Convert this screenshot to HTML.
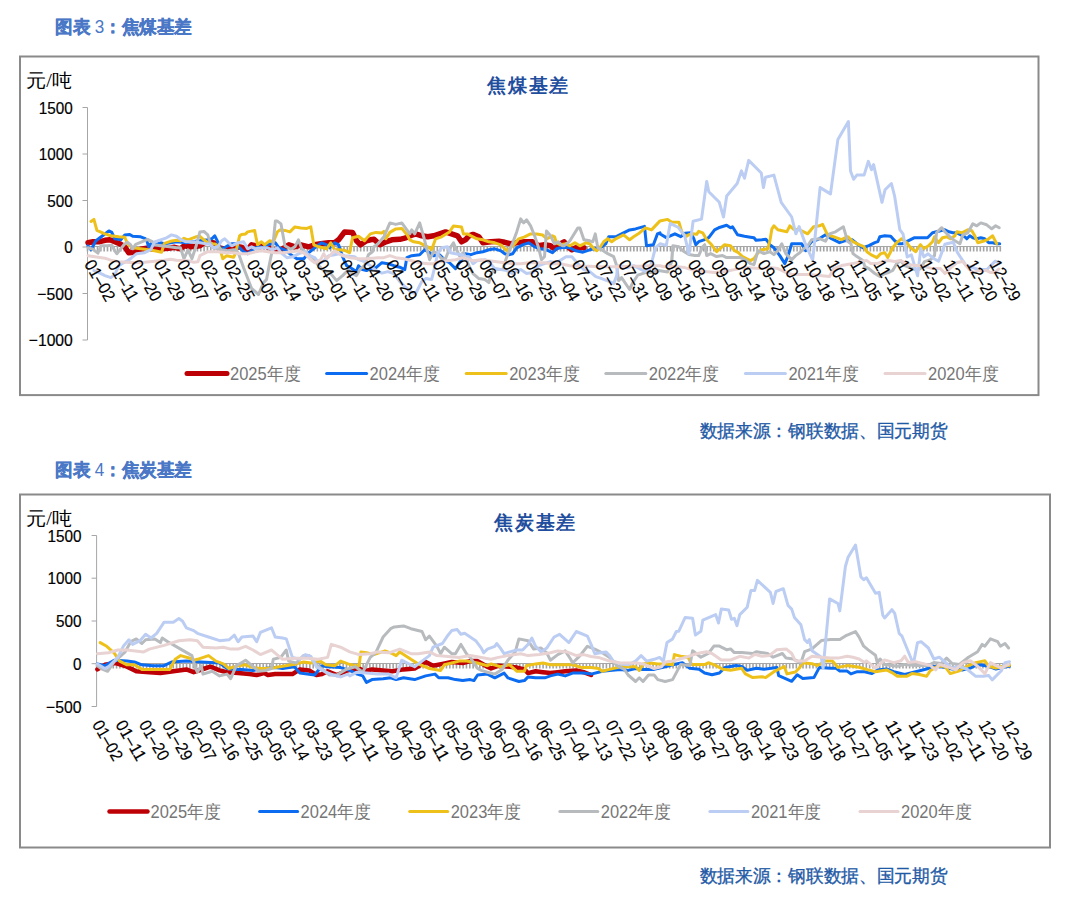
<!DOCTYPE html>
<html><head><meta charset="utf-8"><style>
html,body{margin:0;padding:0;background:#fff;}
body{width:1080px;height:905px;overflow:hidden;position:relative;font-family:"Liberation Sans",sans-serif;}
svg{position:absolute;left:0;top:0;}
.yl{font-family:"Liberation Sans",sans-serif;font-size:17px;fill:#000;stroke:#000;stroke-width:0.2px;}
.xl{font-family:"Liberation Sans",sans-serif;font-size:17px;fill:#000;stroke:#000;stroke-width:0.12px;}
.ct{font-family:"Liberation Serif",serif;font-size:18.5px;font-weight:bold;fill:#1f4e9e;letter-spacing:1.8px;}
.un{font-family:"Liberation Serif",serif;font-size:19px;fill:#000;}
.lg{font-family:"Liberation Sans",sans-serif;font-size:17.5px;fill:#767676;}
.hd2{font-family:"Liberation Sans",sans-serif;font-weight:bold;font-size:17.5px;fill:#4a77c6;stroke:#4a77c6;stroke-width:0.4px;}
.src2{font-family:"Liberation Sans",sans-serif;font-size:17.5px;fill:#1f5aa6;stroke:#1f5aa6;stroke-width:0.35px;}
</style></head><body>
<svg width="1080" height="905" viewBox="0 0 1080 905">
<text x="55" y="33" class="hd2" textLength="137" lengthAdjust="spacingAndGlyphs">图表 <tspan style="font-weight:normal;stroke-width:0">3</tspan>：焦煤基差</text>
<text x="55" y="476" class="hd2" textLength="137" lengthAdjust="spacingAndGlyphs">图表 <tspan style="font-weight:normal;stroke-width:0">4</tspan>：焦炭基差</text>
<text x="699.5" y="437" class="src2" textLength="248" lengthAdjust="spacingAndGlyphs">数据来源：钢联数据、国元期货</text>
<text x="699.5" y="882" class="src2" textLength="248" lengthAdjust="spacingAndGlyphs">数据来源：钢联数据、国元期货</text>
<rect x="20" y="56.5" width="1018.5" height="338.6" fill="none" stroke="#8a8a8a" stroke-width="2"/>
<line x1="87.5" y1="107.5" x2="87.5" y2="340.0" stroke="#a6a6a6" stroke-width="1"/>
<line x1="82.5" y1="107.5" x2="87.5" y2="107.5" stroke="#a6a6a6" stroke-width="1"/>
<text x="38.8" y="113.5" class="yl" textLength="34.0" lengthAdjust="spacingAndGlyphs">1500</text>
<line x1="82.5" y1="154.0" x2="87.5" y2="154.0" stroke="#a6a6a6" stroke-width="1"/>
<text x="38.8" y="160.0" class="yl" textLength="34.0" lengthAdjust="spacingAndGlyphs">1000</text>
<line x1="82.5" y1="200.5" x2="87.5" y2="200.5" stroke="#a6a6a6" stroke-width="1"/>
<text x="47.3" y="206.5" class="yl" textLength="25.5" lengthAdjust="spacingAndGlyphs">500</text>
<line x1="82.5" y1="247.0" x2="87.5" y2="247.0" stroke="#a6a6a6" stroke-width="1"/>
<text x="64.3" y="253.0" class="yl" textLength="8.5" lengthAdjust="spacingAndGlyphs">0</text>
<line x1="82.5" y1="293.5" x2="87.5" y2="293.5" stroke="#a6a6a6" stroke-width="1"/>
<text x="37.3" y="299.5" class="yl" textLength="35.5" lengthAdjust="spacingAndGlyphs">−500</text>
<line x1="82.5" y1="340.0" x2="87.5" y2="340.0" stroke="#a6a6a6" stroke-width="1"/>
<text x="28.8" y="346.0" class="yl" textLength="44.0" lengthAdjust="spacingAndGlyphs">−1000</text>
<path d="M87.50 246.0v5.5M90.83 246.0v5.5M94.16 246.0v5.5M97.49 246.0v5.5M100.83 246.0v5.5M104.16 246.0v5.5M107.49 246.0v5.5M110.82 246.0v5.5M114.15 246.0v5.5M117.48 246.0v5.5M120.81 246.0v5.5M124.15 246.0v5.5M127.48 246.0v5.5M130.81 246.0v5.5M134.14 246.0v5.5M137.47 246.0v5.5M140.80 246.0v5.5M144.13 246.0v5.5M147.46 246.0v5.5M150.80 246.0v5.5M154.13 246.0v5.5M157.46 246.0v5.5M160.79 246.0v5.5M164.12 246.0v5.5M167.45 246.0v5.5M170.78 246.0v5.5M174.12 246.0v5.5M177.45 246.0v5.5M180.78 246.0v5.5M184.11 246.0v5.5M187.44 246.0v5.5M190.77 246.0v5.5M194.10 246.0v5.5M197.44 246.0v5.5M200.77 246.0v5.5M204.10 246.0v5.5M207.43 246.0v5.5M210.76 246.0v5.5M214.09 246.0v5.5M217.42 246.0v5.5M220.76 246.0v5.5M224.09 246.0v5.5M227.42 246.0v5.5M230.75 246.0v5.5M234.08 246.0v5.5M237.41 246.0v5.5M240.74 246.0v5.5M244.08 246.0v5.5M247.41 246.0v5.5M250.74 246.0v5.5M254.07 246.0v5.5M257.40 246.0v5.5M260.73 246.0v5.5M264.06 246.0v5.5M267.39 246.0v5.5M270.73 246.0v5.5M274.06 246.0v5.5M277.39 246.0v5.5M280.72 246.0v5.5M284.05 246.0v5.5M287.38 246.0v5.5M290.71 246.0v5.5M294.05 246.0v5.5M297.38 246.0v5.5M300.71 246.0v5.5M304.04 246.0v5.5M307.37 246.0v5.5M310.70 246.0v5.5M314.03 246.0v5.5M317.37 246.0v5.5M320.70 246.0v5.5M324.03 246.0v5.5M327.36 246.0v5.5M330.69 246.0v5.5M334.02 246.0v5.5M337.35 246.0v5.5M340.69 246.0v5.5M344.02 246.0v5.5M347.35 246.0v5.5M350.68 246.0v5.5M354.01 246.0v5.5M357.34 246.0v5.5M360.67 246.0v5.5M364.01 246.0v5.5M367.34 246.0v5.5M370.67 246.0v5.5M374.00 246.0v5.5M377.33 246.0v5.5M380.66 246.0v5.5M383.99 246.0v5.5M387.32 246.0v5.5M390.66 246.0v5.5M393.99 246.0v5.5M397.32 246.0v5.5M400.65 246.0v5.5M403.98 246.0v5.5M407.31 246.0v5.5M410.64 246.0v5.5M413.98 246.0v5.5M417.31 246.0v5.5M420.64 246.0v5.5M423.97 246.0v5.5M427.30 246.0v5.5M430.63 246.0v5.5M433.96 246.0v5.5M437.30 246.0v5.5M440.63 246.0v5.5M443.96 246.0v5.5M447.29 246.0v5.5M450.62 246.0v5.5M453.95 246.0v5.5M457.28 246.0v5.5M460.62 246.0v5.5M463.95 246.0v5.5M467.28 246.0v5.5M470.61 246.0v5.5M473.94 246.0v5.5M477.27 246.0v5.5M480.60 246.0v5.5M483.94 246.0v5.5M487.27 246.0v5.5M490.60 246.0v5.5M493.93 246.0v5.5M497.26 246.0v5.5M500.59 246.0v5.5M503.92 246.0v5.5M507.25 246.0v5.5M510.59 246.0v5.5M513.92 246.0v5.5M517.25 246.0v5.5M520.58 246.0v5.5M523.91 246.0v5.5M527.24 246.0v5.5M530.57 246.0v5.5M533.91 246.0v5.5M537.24 246.0v5.5M540.57 246.0v5.5M543.90 246.0v5.5M547.23 246.0v5.5M550.56 246.0v5.5M553.89 246.0v5.5M557.23 246.0v5.5M560.56 246.0v5.5M563.89 246.0v5.5M567.22 246.0v5.5M570.55 246.0v5.5M573.88 246.0v5.5M577.21 246.0v5.5M580.55 246.0v5.5M583.88 246.0v5.5M587.21 246.0v5.5M590.54 246.0v5.5M593.87 246.0v5.5M597.20 246.0v5.5M600.53 246.0v5.5M603.86 246.0v5.5M607.20 246.0v5.5M610.53 246.0v5.5M613.86 246.0v5.5M617.19 246.0v5.5M620.52 246.0v5.5M623.85 246.0v5.5M627.18 246.0v5.5M630.52 246.0v5.5M633.85 246.0v5.5M637.18 246.0v5.5M640.51 246.0v5.5M643.84 246.0v5.5M647.17 246.0v5.5M650.50 246.0v5.5M653.84 246.0v5.5M657.17 246.0v5.5M660.50 246.0v5.5M663.83 246.0v5.5M667.16 246.0v5.5M670.49 246.0v5.5M673.82 246.0v5.5M677.16 246.0v5.5M680.49 246.0v5.5M683.82 246.0v5.5M687.15 246.0v5.5M690.48 246.0v5.5M693.81 246.0v5.5M697.14 246.0v5.5M700.48 246.0v5.5M703.81 246.0v5.5M707.14 246.0v5.5M710.47 246.0v5.5M713.80 246.0v5.5M717.13 246.0v5.5M720.46 246.0v5.5M723.79 246.0v5.5M727.13 246.0v5.5M730.46 246.0v5.5M733.79 246.0v5.5M737.12 246.0v5.5M740.45 246.0v5.5M743.78 246.0v5.5M747.11 246.0v5.5M750.45 246.0v5.5M753.78 246.0v5.5M757.11 246.0v5.5M760.44 246.0v5.5M763.77 246.0v5.5M767.10 246.0v5.5M770.43 246.0v5.5M773.77 246.0v5.5M777.10 246.0v5.5M780.43 246.0v5.5M783.76 246.0v5.5M787.09 246.0v5.5M790.42 246.0v5.5M793.75 246.0v5.5M797.09 246.0v5.5M800.42 246.0v5.5M803.75 246.0v5.5M807.08 246.0v5.5M810.41 246.0v5.5M813.74 246.0v5.5M817.07 246.0v5.5M820.41 246.0v5.5M823.74 246.0v5.5M827.07 246.0v5.5M830.40 246.0v5.5M833.73 246.0v5.5M837.06 246.0v5.5M840.39 246.0v5.5M843.72 246.0v5.5M847.06 246.0v5.5M850.39 246.0v5.5M853.72 246.0v5.5M857.05 246.0v5.5M860.38 246.0v5.5M863.71 246.0v5.5M867.04 246.0v5.5M870.38 246.0v5.5M873.71 246.0v5.5M877.04 246.0v5.5M880.37 246.0v5.5M883.70 246.0v5.5M887.03 246.0v5.5M890.36 246.0v5.5M893.70 246.0v5.5M897.03 246.0v5.5M900.36 246.0v5.5M903.69 246.0v5.5M907.02 246.0v5.5M910.35 246.0v5.5M913.68 246.0v5.5M917.02 246.0v5.5M920.35 246.0v5.5M923.68 246.0v5.5M927.01 246.0v5.5M930.34 246.0v5.5M933.67 246.0v5.5M937.00 246.0v5.5M940.34 246.0v5.5M943.67 246.0v5.5M947.00 246.0v5.5M950.33 246.0v5.5M953.66 246.0v5.5M956.99 246.0v5.5M960.32 246.0v5.5M963.65 246.0v5.5M966.99 246.0v5.5M970.32 246.0v5.5M973.65 246.0v5.5M976.98 246.0v5.5M980.31 246.0v5.5M983.64 246.0v5.5M986.97 246.0v5.5M990.31 246.0v5.5M993.64 246.0v5.5M996.97 246.0v5.5M1000.30 246.0v5.5" stroke="#a4a4a4" stroke-width="1.6" fill="none"/>
<line x1="87.5" y1="246.5" x2="1000.3" y2="246.5" stroke="#a6a6a6" stroke-width="1"/>
<path d="M88.0 242.8 L93.0 241.8 L98.9 241.8 L104.9 240.3 L109.9 239.8 L114.8 241.8 L120.8 244.3 L124.8 246.8 L128.7 252.7 L134.7 252.2 L140.7 249.3 L146.6 248.3 L152.6 249.3 L160.5 248.8 L168.5 248.3 L174.5 247.3 L180.4 248.8 L184.0 245.8 L189.9 246.8 L195.9 246.3 L199.9 245.8 L203.9 242.8 L209.8 241.8 L213.8 242.8 L219.8 247.8 L223.7 248.8 L227.7 249.8 L233.7 248.8 L237.7 246.8 L241.6 247.3 L247.6 249.8 L251.6 244.8 L255.5 245.8 L259.5 246.8 L264.5 245.8 L269.5 247.8 L274.4 249.8 L281.0 249.8 L288.9 244.8 L294.9 246.8 L300.8 244.8 L308.8 246.8 L314.8 244.8 L320.7 243.8 L328.7 242.8 L334.6 242.8 L338.6 239.8 L344.6 231.9 L352.5 232.4 L356.5 240.8 L360.5 244.8 L366.5 240.8 L370.4 239.8 L374.0 239.3 L379.9 244.8 L385.9 241.8 L391.9 239.8 L399.8 239.3 L405.8 237.8 L409.8 235.8 L415.7 233.9 L421.7 235.8 L427.7 236.8 L433.6 235.8 L439.6 233.9 L445.5 231.9 L451.5 233.9 L457.5 235.8 L461.5 241.8 L465.4 239.8 L469.0 235.8 L473.0 234.4 L478.9 236.8 L482.9 242.8 L490.8 241.8 L498.8 241.3 L504.8 242.3 L510.7 243.8 L516.7 242.8 L524.6 241.8 L532.6 241.8 L538.6 245.8 L544.5 244.8 L550.5 245.8 L554.5 248.8 L560.4 243.8 L564.0 241.8 L568.0 246.8 L571.9 249.8 L575.9 247.8 L583.9 247.8" stroke="#bd0006" stroke-width="5.5" fill="none" stroke-linejoin="round" stroke-linecap="round"/>
<path d="M88.0 245.8 L91.0 249.8 L95.9 240.8 L101.9 236.3 L108.9 230.9 L111.8 232.4 L114.8 238.8 L120.8 239.8 L124.8 234.9 L129.7 234.4 L132.7 236.3 L140.7 236.8 L144.6 238.3 L146.6 239.8 L148.6 246.8 L150.6 243.8 L154.6 244.8 L160.5 242.8 L164.5 243.8 L170.5 242.8 L176.5 241.8 L186.0 242.8 L191.9 241.8 L199.9 240.8 L207.8 239.8 L211.8 238.8 L214.8 235.8 L217.8 241.8 L219.8 247.8 L223.7 248.3 L227.7 245.8 L231.7 243.8 L235.7 243.8 L239.6 247.8 L243.6 251.7 L247.6 253.7 L251.6 250.8 L255.5 247.8 L259.5 246.8 L263.5 247.8 L267.5 244.8 L275.4 242.8 L279.0 247.8 L284.9 249.8 L290.9 254.7 L296.9 258.7 L303.8 258.7 L308.8 252.7 L314.8 247.8 L321.7 242.8 L326.7 244.8 L329.7 247.8 L334.6 242.8 L338.6 244.8 L342.6 256.7 L346.6 265.7 L350.5 267.7 L356.5 271.6 L358.5 265.7 L362.5 269.6 L366.5 270.6 L370.4 268.6 L376.0 267.7 L381.9 262.7 L387.9 263.7 L393.9 265.7 L399.8 267.2 L404.8 269.6 L406.8 257.7 L411.7 255.7 L419.7 254.7 L424.7 249.8 L429.6 252.7 L433.6 255.7 L439.6 254.7 L441.6 256.7 L445.5 260.7 L449.5 262.7 L455.5 268.6 L459.5 262.7 L465.4 253.7 L471.0 254.7 L476.9 252.7 L482.9 251.7 L488.9 249.8 L494.8 248.8 L500.8 250.8 L504.8 253.7 L508.7 254.7 L512.7 253.7 L516.7 247.8 L522.7 244.8 L528.6 242.8 L534.6 246.8 L540.5 248.8 L546.5 249.8 L552.5 252.7 L556.5 248.8 L560.4 247.8 L566.0 247.3 L569.9 247.8 L575.9 250.8 L582.9 252.2 L589.8 249.8 L593.8 248.8 L599.8 248.3 L605.7 243.8 L608.7 236.8 L615.7 236.8 L621.6 233.9 L629.6 229.9 L635.5 228.9 L644.5 226.4 L646.5 245.8 L653.4 244.8 L657.4 233.9 L660.0 232.9 L659.8 233.7 L666.3 237.6 L674.9 233.8 L680.8 236.7 L684.8 233.3 L690.8 232.8 L693.8 238.7 L695.8 244.7 L698.7 241.7 L704.7 239.7 L708.7 237.7 L714.6 229.8 L718.6 227.8 L726.6 225.3 L730.5 227.8 L732.5 226.8 L737.5 234.8 L744.5 236.3 L750.4 237.2 L754.0 237.7 L756.0 240.2 L761.9 239.7 L765.9 239.2 L767.9 241.7 L769.9 244.7 L773.9 247.7 L779.8 255.6 L784.8 263.6 L787.8 256.6 L791.7 243.7 L795.7 243.7 L801.7 243.7 L805.7 250.7 L807.7 246.7 L811.6 241.7 L817.6 239.7 L825.5 234.8 L831.5 238.7 L839.5 242.7 L845.4 240.7 L852.0 239.7 L856.9 243.7 L862.9 247.7 L868.9 245.7 L874.8 242.7 L877.8 241.7 L879.8 236.7 L884.8 235.8 L890.7 236.3 L894.7 240.7 L898.7 243.7 L902.7 243.7 L908.6 240.7 L914.6 237.7 L920.5 237.7 L927.5 237.7 L932.5 232.8 L936.5 231.8 L940.4 230.8 L944.9 229.8 L948.9 231.8 L952.9 232.8 L956.9 232.8 L960.9 234.8 L964.8 236.8 L966.8 238.8 L969.8 235.8 L972.8 237.8 L976.8 238.8 L980.8 237.8 L984.7 238.8 L988.7 242.7 L992.7 242.7 L996.7 243.7 L999.7 243.7" stroke="#0b6cf2" stroke-width="3" fill="none" stroke-linejoin="round" stroke-linecap="round"/>
<path d="M91.0 221.4 L93.9 219.4 L96.9 230.4 L104.9 233.9 L110.8 235.8 L118.8 236.8 L124.8 237.3 L127.7 244.3 L132.7 247.8 L140.7 248.8 L148.6 249.8 L154.6 250.8 L161.5 252.2 L164.5 243.3 L170.5 241.3 L176.5 240.3 L180.4 240.8 L184.0 238.3 L188.0 239.8 L195.9 236.8 L199.9 236.3 L203.9 239.8 L207.8 242.8 L212.8 243.8 L215.8 244.3 L219.8 247.8 L222.7 258.7 L226.7 255.7 L233.7 257.2 L235.7 252.7 L239.6 235.8 L241.6 234.4 L245.6 233.9 L247.6 231.9 L254.6 230.4 L257.5 244.8 L261.5 241.8 L264.5 244.8 L269.5 240.8 L273.4 241.8 L277.4 231.9 L280.0 229.9 L284.9 230.4 L289.9 231.9 L294.9 226.9 L300.8 227.9 L306.8 228.4 L310.8 226.9 L313.8 244.8 L318.7 246.8 L326.7 248.8 L330.7 242.8 L334.6 249.8 L338.6 249.8 L344.6 250.3 L349.6 252.7 L352.5 237.8 L358.5 236.3 L364.5 240.8 L370.4 233.9 L376.0 232.4 L381.9 232.9 L383.9 231.4 L385.9 238.8 L389.9 232.4 L395.8 228.9 L401.8 228.4 L407.8 235.8 L409.8 239.8 L413.7 241.8 L419.7 242.8 L423.7 244.8 L429.6 247.8 L431.6 249.8 L435.6 238.8 L441.6 236.8 L449.5 231.9 L453.5 225.9 L461.5 226.9 L463.4 233.9 L467.4 233.9 L471.0 235.8 L476.9 238.8 L482.9 239.8 L488.9 241.8 L494.8 242.8 L500.8 244.8 L504.8 248.8 L506.7 250.8 L510.7 247.8 L514.7 243.8 L518.7 238.8 L524.6 236.8 L530.6 233.9 L536.6 233.9 L542.5 234.9 L546.5 238.8 L552.5 235.8 L554.5 236.8 L556.5 242.8 L560.4 244.8 L566.0 243.8 L569.9 245.8 L574.9 242.8 L579.9 245.8 L585.8 242.8 L589.8 243.8 L593.8 248.8 L596.8 250.8 L599.8 247.8 L603.7 241.8 L607.7 238.8 L611.7 241.8 L615.7 238.8 L623.6 234.9 L629.6 239.8 L633.6 236.8 L639.5 232.9 L645.5 227.9 L651.5 229.9 L660.0 220.9 L661.1 220.7 L667.6 219.4 L671.5 222.0 L678.9 222.3 L681.8 231.8 L685.8 236.7 L688.8 234.8 L692.8 233.8 L696.7 234.3 L698.7 231.3 L702.7 232.8 L706.7 239.7 L710.7 243.7 L716.6 251.7 L724.6 244.7 L730.5 245.7 L734.5 250.7 L738.5 252.7 L742.5 256.6 L750.4 260.6 L754.0 258.6 L758.0 252.7 L761.9 249.7 L767.9 248.7 L769.9 240.7 L771.9 228.8 L773.9 225.8 L777.8 229.8 L786.8 231.8 L789.8 225.8 L793.7 229.3 L799.7 229.8 L807.7 233.8 L813.6 226.8 L819.6 225.8 L822.6 224.3 L827.5 234.8 L833.5 236.7 L841.5 239.7 L845.4 237.7 L848.0 236.7 L853.0 241.7 L858.9 244.7 L863.9 246.7 L866.9 251.7 L870.8 254.6 L876.8 257.6 L880.8 253.6 L884.8 252.7 L887.7 257.6 L892.7 247.7 L896.7 242.7 L901.7 238.7 L906.6 242.7 L910.6 247.7 L915.6 251.7 L920.5 244.7 L923.5 248.7 L928.5 245.7 L932.5 241.7 L934.5 236.7 L938.4 242.7 L942.4 237.7 L946.9 236.8 L950.9 238.8 L954.9 235.8 L956.9 231.8 L961.9 232.8 L967.8 229.8 L971.8 230.8 L974.8 235.8 L977.8 242.7 L984.7 240.8 L988.7 238.8 L992.7 235.8 L994.7 239.8 L996.7 243.7" stroke="#eec11a" stroke-width="3" fill="none" stroke-linejoin="round" stroke-linecap="round"/>
<path d="M88.0 247.8 L93.0 249.3 L97.9 253.2 L100.9 245.8 L106.9 245.8 L111.8 245.3 L114.8 250.8 L116.8 253.7 L120.8 248.8 L124.8 243.8 L127.7 242.3 L130.7 244.8 L132.7 248.8 L135.7 244.3 L141.7 241.8 L147.6 239.3 L152.6 241.8 L154.6 244.8 L160.5 245.8 L169.5 246.8 L176.5 247.8 L180.4 247.8 L184.0 258.7 L188.0 249.8 L191.9 258.7 L195.9 246.8 L199.9 231.9 L203.9 231.4 L207.8 234.9 L209.8 241.8 L212.8 247.8 L217.8 248.8 L221.7 249.8 L227.7 250.8 L233.7 249.8 L235.7 249.8 L238.6 253.7 L243.6 267.7 L251.6 288.5 L258.5 294.5 L263.5 282.6 L266.5 279.6 L269.5 263.7 L272.4 249.8 L275.4 220.9 L277.0 220.9 L281.0 223.9 L284.9 245.8 L290.9 249.3 L294.9 246.8 L298.4 239.8 L301.8 248.8 L306.8 253.7 L312.8 257.7 L317.7 264.7 L322.7 269.6 L330.7 273.6 L336.6 280.6 L342.6 275.6 L348.6 269.6 L352.5 273.6 L356.5 275.6 L360.5 268.6 L364.5 265.7 L368.4 254.7 L372.4 251.7 L374.0 246.8 L378.0 243.8 L383.9 236.8 L389.9 222.9 L395.8 224.4 L401.8 222.9 L409.8 233.9 L411.7 229.9 L414.7 233.9 L419.7 222.9 L423.7 236.8 L429.6 259.7 L433.6 251.7 L437.6 253.7 L441.6 258.7 L445.5 258.7 L449.5 248.8 L453.5 242.8 L455.5 247.8 L459.5 255.7 L463.4 252.7 L469.0 265.7 L473.0 273.6 L478.9 278.6 L484.9 279.6 L488.9 282.6 L490.8 274.6 L494.8 268.6 L498.8 269.6 L502.8 269.6 L505.8 259.7 L508.7 251.7 L512.7 242.8 L516.7 231.9 L520.7 218.9 L523.6 222.9 L526.6 219.9 L530.6 225.9 L534.6 235.8 L538.6 247.8 L541.5 259.7 L544.5 256.7 L546.5 230.9 L550.5 235.8 L554.5 243.8 L558.4 241.8 L562.4 245.8 L564.0 245.8 L569.9 240.8 L577.9 227.9 L579.9 227.9 L583.9 239.8 L589.8 240.8 L592.8 241.8 L595.3 233.9 L597.8 247.8 L601.7 249.8 L607.7 253.7 L613.7 256.7 L616.7 265.7 L618.6 280.6 L621.6 277.6 L629.6 289.5 L632.6 283.0 L637.7 275.2 L645.6 272.6 L650.8 272.6 L658.5 270.6 L660.0 270.8 L667.6 271.9 L671.5 262.2 L672.8 246.7 L671.9 260.6 L672.9 245.7 L678.9 246.7 L682.8 250.7 L688.8 254.6 L694.8 255.6 L698.7 255.6 L702.7 246.7 L704.7 244.7 L706.7 255.6 L710.7 253.6 L716.6 256.6 L722.6 255.6 L726.6 257.6 L734.5 257.6 L740.5 257.6 L746.5 260.6 L750.4 263.6 L754.0 264.6 L758.0 250.7 L763.9 253.6 L769.9 251.7 L773.9 254.6 L777.8 250.7 L781.8 243.7 L785.8 253.6 L791.7 259.6 L795.7 255.6 L799.7 252.7 L803.7 248.7 L807.7 245.7 L811.6 239.7 L819.6 238.7 L825.5 241.2 L829.5 233.8 L835.5 231.8 L843.4 226.8 L847.4 240.7 L847.0 240.7 L851.0 243.7 L853.0 253.6 L856.9 256.6 L862.9 260.6 L864.9 266.6 L868.9 268.6 L874.8 273.5 L879.8 276.5 L884.8 273.5 L888.7 272.5 L892.7 270.5 L896.7 263.6 L900.7 260.6 L904.6 265.6 L912.6 268.6 L916.6 270.5 L920.5 268.6 L924.5 261.6 L930.5 259.6 L934.5 255.6 L936.5 232.8 L941.4 227.8 L942.0 227.8 L944.9 231.8 L949.9 236.8 L954.9 240.8 L959.9 243.7 L962.9 234.8 L967.8 232.8 L972.8 223.8 L976.8 225.8 L980.8 222.9 L986.7 224.8 L991.7 228.8 L995.7 225.8 L999.2 227.8" stroke="#b8bbbe" stroke-width="3" fill="none" stroke-linejoin="round" stroke-linecap="round"/>
<path d="M93.9 270.6 L99.9 273.1 L104.9 275.6 L110.8 277.6 L114.8 274.6 L118.8 265.7 L122.8 263.2 L127.7 260.7 L131.7 257.7 L136.7 253.7 L144.6 252.7 L150.6 249.8 L154.6 241.8 L160.5 239.8 L166.5 237.8 L171.5 234.9 L176.5 236.3 L180.4 239.3 L186.0 241.8 L193.9 241.8 L199.9 242.8 L205.8 243.8 L209.8 244.3 L213.8 247.8 L217.8 246.8 L221.7 240.8 L224.7 238.8 L227.7 241.8 L231.7 245.8 L237.7 242.8 L243.6 241.8 L247.6 248.8 L251.6 246.8 L255.5 248.8 L261.5 247.8 L267.5 247.8 L272.4 249.8 L277.4 247.8 L281.0 252.7 L286.9 257.7 L292.9 256.7 L298.9 253.7 L304.8 251.7 L309.8 255.7 L314.8 257.7 L318.7 262.7 L322.7 261.7 L328.7 255.7 L334.6 254.7 L338.6 253.7 L344.6 255.7 L354.5 256.7 L358.5 259.7 L364.5 261.7 L370.4 265.7 L376.0 270.6 L381.9 273.1 L387.9 271.6 L393.9 273.6 L399.8 281.6 L405.8 287.5 L411.7 292.5 L415.7 293.5 L421.7 281.6 L425.7 278.6 L431.6 279.6 L434.6 267.7 L437.6 253.7 L441.6 247.8 L447.5 246.8 L450.5 252.7 L455.5 253.7 L461.5 254.7 L465.4 256.7 L469.0 256.7 L473.0 263.7 L476.9 260.7 L484.9 259.7 L488.9 261.7 L494.8 268.6 L500.8 269.6 L506.7 270.6 L512.7 273.6 L516.7 270.6 L520.7 269.6 L526.6 273.6 L532.6 272.6 L538.6 265.7 L544.5 263.7 L550.5 261.7 L556.5 262.7 L566.0 256.7 L571.9 256.7 L577.9 263.7 L583.9 269.6 L589.8 271.6 L595.8 276.6 L601.7 278.6 L609.7 281.6 L613.7 283.6 L616.7 275.6 L617.7 265.7 L621.6 266.7 L627.6 267.7 L633.6 265.7 L639.5 268.6 L645.5 271.6 L649.5 269.6 L652.4 259.7 L655.4 247.8 L660.0 243.8 L666.3 245.4 L670.2 223.3 L678.4 227.5 L684.7 235.9 L688.9 253.8 L693.1 221.2 L701.5 219.1 L706.7 181.4 L708.8 191.8 L719.3 202.3 L723.5 217.0 L726.7 196.0 L737.2 183.5 L741.4 170.9 L744.5 178.2 L748.7 160.4 L761.3 173.0 L763.4 187.6 L765.5 177.2 L773.9 175.1 L781.2 202.3 L791.7 217.0 L795.9 233.8 L799.1 226.5 L806.4 246.4 L812.7 260.1 L820.1 187.6 L830.5 193.9 L837.9 139.4 L848.4 121.5 L850.5 170.9 L853.6 179.3 L856.8 175.1 L864.1 175.1 L868.3 161.4 L871.5 169.8 L873.6 164.6 L882.0 202.3 L885.1 189.7 L891.4 183.5 L894.6 196.0 L899.8 229.6 L903.0 233.8 L907.2 256.9 L911.4 254.8 L917.6 275.8 L920.8 248.5 L923.9 256.9 L928.1 253.8 L934.4 259.0 L938.6 261.1 L944.9 244.3 L953.3 242.2 L957.5 252.7 L965.9 265.3 L978.5 269.5 L986.9 269.5 L995.3 261.1 L999.5 263.2" stroke="#bccdf3" stroke-width="3" fill="none" stroke-linejoin="round" stroke-linecap="round"/>
<path d="M88.0 255.7 L94.9 256.7 L104.9 258.2 L110.8 260.2 L118.8 261.7 L126.7 262.2 L134.7 262.7 L144.6 262.2 L154.6 261.2 L164.5 260.2 L170.5 259.2 L176.5 260.2 L188.0 260.7 L193.9 262.2 L197.9 261.7 L199.9 255.7 L207.8 251.7 L217.8 251.7 L225.7 252.7 L233.7 252.7 L239.6 253.7 L247.6 253.7 L255.5 251.7 L261.5 250.8 L267.5 251.7 L275.4 252.7 L283.0 252.7 L290.9 251.7 L298.9 250.8 L304.8 253.7 L310.8 259.7 L314.8 262.7 L320.7 259.7 L323.7 253.7 L326.7 258.7 L334.6 250.8 L342.6 255.7 L350.5 257.7 L358.5 258.7 L366.5 258.7 L378.0 257.7 L383.9 257.7 L389.9 255.7 L395.8 257.7 L403.8 258.7 L411.7 260.7 L419.7 262.7 L427.7 263.7 L433.6 263.7 L439.6 261.7 L447.5 260.7 L455.5 259.7 L463.4 257.7 L473.0 260.7 L480.9 259.7 L488.9 260.7 L496.8 261.7 L504.8 262.7 L512.7 263.7 L520.7 263.7 L528.6 262.7 L536.6 262.7 L544.5 262.7 L552.5 263.7 L560.4 263.7 L569.9 265.7 L579.9 266.2 L589.8 266.2 L599.8 266.7 L609.7 266.7 L619.6 266.7 L629.6 266.2 L639.5 266.2 L649.5 265.7 L660.0 265.7 L663.7 266.8 L674.9 266.6 L684.8 267.6 L694.8 270.5 L704.7 271.5 L714.6 272.5 L724.6 271.5 L734.5 269.6 L744.5 267.6 L759.9 268.6 L769.9 267.6 L777.8 268.6 L783.8 271.5 L791.7 274.5 L799.7 274.5 L809.6 274.5 L819.6 275.5 L829.5 276.5 L833.5 268.6 L841.5 265.6 L853.0 263.6 L860.9 261.6 L866.9 260.6 L870.8 263.6 L876.8 263.6 L882.8 261.6 L888.7 260.6 L894.7 261.6 L900.7 260.6 L906.6 263.6 L914.6 265.6 L920.5 265.6 L924.5 266.6 L932.5 268.6 L940.4 268.6 L944.9 273.6 L950.9 267.6 L956.9 262.6 L962.9 261.6 L966.8 266.6 L972.8 272.6 L978.8 270.6 L982.7 270.6 L986.7 270.6 L990.7 272.6 L994.7 272.6 L998.7 269.1" stroke="#e8d2d2" stroke-width="3" fill="none" stroke-linejoin="round" stroke-linecap="round"/>
<text x="83.7" y="264" transform="rotate(60 83.7 264)" class="xl" textLength="44.8" lengthAdjust="spacingAndGlyphs">01–02</text>
<text x="106.9" y="264" transform="rotate(60 106.9 264)" class="xl" textLength="44.8" lengthAdjust="spacingAndGlyphs">01–11</text>
<text x="130.1" y="264" transform="rotate(60 130.1 264)" class="xl" textLength="44.8" lengthAdjust="spacingAndGlyphs">01–20</text>
<text x="153.3" y="264" transform="rotate(60 153.3 264)" class="xl" textLength="44.8" lengthAdjust="spacingAndGlyphs">01–29</text>
<text x="176.5" y="264" transform="rotate(60 176.5 264)" class="xl" textLength="44.8" lengthAdjust="spacingAndGlyphs">02–07</text>
<text x="199.8" y="264" transform="rotate(60 199.8 264)" class="xl" textLength="44.8" lengthAdjust="spacingAndGlyphs">02–16</text>
<text x="223.0" y="264" transform="rotate(60 223.0 264)" class="xl" textLength="44.8" lengthAdjust="spacingAndGlyphs">02–25</text>
<text x="246.2" y="264" transform="rotate(60 246.2 264)" class="xl" textLength="44.8" lengthAdjust="spacingAndGlyphs">03–05</text>
<text x="269.4" y="264" transform="rotate(60 269.4 264)" class="xl" textLength="44.8" lengthAdjust="spacingAndGlyphs">03–14</text>
<text x="292.6" y="264" transform="rotate(60 292.6 264)" class="xl" textLength="44.8" lengthAdjust="spacingAndGlyphs">03–23</text>
<text x="315.8" y="264" transform="rotate(60 315.8 264)" class="xl" textLength="44.8" lengthAdjust="spacingAndGlyphs">04–01</text>
<text x="339.1" y="264" transform="rotate(60 339.1 264)" class="xl" textLength="44.8" lengthAdjust="spacingAndGlyphs">04–11</text>
<text x="362.3" y="264" transform="rotate(60 362.3 264)" class="xl" textLength="44.8" lengthAdjust="spacingAndGlyphs">04–20</text>
<text x="385.5" y="264" transform="rotate(60 385.5 264)" class="xl" textLength="44.8" lengthAdjust="spacingAndGlyphs">04–29</text>
<text x="408.7" y="264" transform="rotate(60 408.7 264)" class="xl" textLength="44.8" lengthAdjust="spacingAndGlyphs">05–11</text>
<text x="431.9" y="264" transform="rotate(60 431.9 264)" class="xl" textLength="44.8" lengthAdjust="spacingAndGlyphs">05–20</text>
<text x="455.1" y="264" transform="rotate(60 455.1 264)" class="xl" textLength="44.8" lengthAdjust="spacingAndGlyphs">05–29</text>
<text x="478.4" y="264" transform="rotate(60 478.4 264)" class="xl" textLength="44.8" lengthAdjust="spacingAndGlyphs">06–07</text>
<text x="501.6" y="264" transform="rotate(60 501.6 264)" class="xl" textLength="44.8" lengthAdjust="spacingAndGlyphs">06–16</text>
<text x="524.8" y="264" transform="rotate(60 524.8 264)" class="xl" textLength="44.8" lengthAdjust="spacingAndGlyphs">06–25</text>
<text x="548.0" y="264" transform="rotate(60 548.0 264)" class="xl" textLength="44.8" lengthAdjust="spacingAndGlyphs">07–04</text>
<text x="571.2" y="264" transform="rotate(60 571.2 264)" class="xl" textLength="44.8" lengthAdjust="spacingAndGlyphs">07–13</text>
<text x="594.4" y="264" transform="rotate(60 594.4 264)" class="xl" textLength="44.8" lengthAdjust="spacingAndGlyphs">07–22</text>
<text x="617.7" y="264" transform="rotate(60 617.7 264)" class="xl" textLength="44.8" lengthAdjust="spacingAndGlyphs">07–31</text>
<text x="640.9" y="264" transform="rotate(60 640.9 264)" class="xl" textLength="44.8" lengthAdjust="spacingAndGlyphs">08–09</text>
<text x="664.1" y="264" transform="rotate(60 664.1 264)" class="xl" textLength="44.8" lengthAdjust="spacingAndGlyphs">08–18</text>
<text x="687.3" y="264" transform="rotate(60 687.3 264)" class="xl" textLength="44.8" lengthAdjust="spacingAndGlyphs">08–27</text>
<text x="710.5" y="264" transform="rotate(60 710.5 264)" class="xl" textLength="44.8" lengthAdjust="spacingAndGlyphs">09–05</text>
<text x="733.7" y="264" transform="rotate(60 733.7 264)" class="xl" textLength="44.8" lengthAdjust="spacingAndGlyphs">09–14</text>
<text x="757.0" y="264" transform="rotate(60 757.0 264)" class="xl" textLength="44.8" lengthAdjust="spacingAndGlyphs">09–23</text>
<text x="780.2" y="264" transform="rotate(60 780.2 264)" class="xl" textLength="44.8" lengthAdjust="spacingAndGlyphs">10–09</text>
<text x="803.4" y="264" transform="rotate(60 803.4 264)" class="xl" textLength="44.8" lengthAdjust="spacingAndGlyphs">10–18</text>
<text x="826.6" y="264" transform="rotate(60 826.6 264)" class="xl" textLength="44.8" lengthAdjust="spacingAndGlyphs">10–27</text>
<text x="849.8" y="264" transform="rotate(60 849.8 264)" class="xl" textLength="44.8" lengthAdjust="spacingAndGlyphs">11–05</text>
<text x="873.0" y="264" transform="rotate(60 873.0 264)" class="xl" textLength="44.8" lengthAdjust="spacingAndGlyphs">11–14</text>
<text x="896.3" y="264" transform="rotate(60 896.3 264)" class="xl" textLength="44.8" lengthAdjust="spacingAndGlyphs">11–23</text>
<text x="919.5" y="264" transform="rotate(60 919.5 264)" class="xl" textLength="44.8" lengthAdjust="spacingAndGlyphs">12–02</text>
<text x="942.7" y="264" transform="rotate(60 942.7 264)" class="xl" textLength="44.8" lengthAdjust="spacingAndGlyphs">12–11</text>
<text x="965.9" y="264" transform="rotate(60 965.9 264)" class="xl" textLength="44.8" lengthAdjust="spacingAndGlyphs">12–20</text>
<text x="989.1" y="264" transform="rotate(60 989.1 264)" class="xl" textLength="44.8" lengthAdjust="spacingAndGlyphs">12–29</text>
<text x="487" y="92" class="ct">焦煤基差</text>
<text x="26" y="86.8" class="un" textLength="46" lengthAdjust="spacingAndGlyphs">元/吨</text>
<line x1="187.0" y1="373.5" x2="227.0" y2="373.5" stroke="#bd0006" stroke-width="5" stroke-linecap="round"/>
<text x="230.0" y="379.7" class="lg" textLength="70.5" lengthAdjust="spacingAndGlyphs">2025年度</text>
<line x1="326.6" y1="373.5" x2="366.6" y2="373.5" stroke="#0b6cf2" stroke-width="3" stroke-linecap="round"/>
<text x="369.6" y="379.7" class="lg" textLength="70.5" lengthAdjust="spacingAndGlyphs">2024年度</text>
<line x1="466.2" y1="373.5" x2="506.2" y2="373.5" stroke="#eec11a" stroke-width="3" stroke-linecap="round"/>
<text x="509.2" y="379.7" class="lg" textLength="70.5" lengthAdjust="spacingAndGlyphs">2023年度</text>
<line x1="605.8" y1="373.5" x2="645.8" y2="373.5" stroke="#b8bbbe" stroke-width="3" stroke-linecap="round"/>
<text x="648.8" y="379.7" class="lg" textLength="70.5" lengthAdjust="spacingAndGlyphs">2022年度</text>
<line x1="745.4" y1="373.5" x2="785.4" y2="373.5" stroke="#bccdf3" stroke-width="3" stroke-linecap="round"/>
<text x="788.4" y="379.7" class="lg" textLength="70.5" lengthAdjust="spacingAndGlyphs">2021年度</text>
<line x1="885.0" y1="373.5" x2="925.0" y2="373.5" stroke="#e8d2d2" stroke-width="3" stroke-linecap="round"/>
<text x="928.0" y="379.7" class="lg" textLength="70.5" lengthAdjust="spacingAndGlyphs">2020年度</text>
<rect x="20" y="494.5" width="1030" height="353" fill="none" stroke="#8a8a8a" stroke-width="2"/>
<line x1="96.6" y1="535.45" x2="96.6" y2="706.45" stroke="#a6a6a6" stroke-width="1"/>
<line x1="91.6" y1="535.5" x2="96.6" y2="535.5" stroke="#a6a6a6" stroke-width="1"/>
<text x="47.5" y="541.5" class="yl" textLength="34.0" lengthAdjust="spacingAndGlyphs">1500</text>
<line x1="91.6" y1="578.2" x2="96.6" y2="578.2" stroke="#a6a6a6" stroke-width="1"/>
<text x="47.5" y="584.2" class="yl" textLength="34.0" lengthAdjust="spacingAndGlyphs">1000</text>
<line x1="91.6" y1="621.0" x2="96.6" y2="621.0" stroke="#a6a6a6" stroke-width="1"/>
<text x="56.0" y="627.0" class="yl" textLength="25.5" lengthAdjust="spacingAndGlyphs">500</text>
<line x1="91.6" y1="663.7" x2="96.6" y2="663.7" stroke="#a6a6a6" stroke-width="1"/>
<text x="73.0" y="669.7" class="yl" textLength="8.5" lengthAdjust="spacingAndGlyphs">0</text>
<line x1="91.6" y1="706.5" x2="96.6" y2="706.5" stroke="#a6a6a6" stroke-width="1"/>
<text x="46.0" y="712.5" class="yl" textLength="35.5" lengthAdjust="spacingAndGlyphs">−500</text>
<path d="M96.60 663.0v5.5M99.93 663.0v5.5M103.26 663.0v5.5M106.60 663.0v5.5M109.93 663.0v5.5M113.26 663.0v5.5M116.59 663.0v5.5M119.92 663.0v5.5M123.26 663.0v5.5M126.59 663.0v5.5M129.92 663.0v5.5M133.25 663.0v5.5M136.59 663.0v5.5M139.92 663.0v5.5M143.25 663.0v5.5M146.58 663.0v5.5M149.91 663.0v5.5M153.25 663.0v5.5M156.58 663.0v5.5M159.91 663.0v5.5M163.24 663.0v5.5M166.57 663.0v5.5M169.91 663.0v5.5M173.24 663.0v5.5M176.57 663.0v5.5M179.90 663.0v5.5M183.24 663.0v5.5M186.57 663.0v5.5M189.90 663.0v5.5M193.23 663.0v5.5M196.56 663.0v5.5M199.90 663.0v5.5M203.23 663.0v5.5M206.56 663.0v5.5M209.89 663.0v5.5M213.22 663.0v5.5M216.56 663.0v5.5M219.89 663.0v5.5M223.22 663.0v5.5M226.55 663.0v5.5M229.88 663.0v5.5M233.22 663.0v5.5M236.55 663.0v5.5M239.88 663.0v5.5M243.21 663.0v5.5M246.55 663.0v5.5M249.88 663.0v5.5M253.21 663.0v5.5M256.54 663.0v5.5M259.87 663.0v5.5M263.21 663.0v5.5M266.54 663.0v5.5M269.87 663.0v5.5M273.20 663.0v5.5M276.53 663.0v5.5M279.87 663.0v5.5M283.20 663.0v5.5M286.53 663.0v5.5M289.86 663.0v5.5M293.19 663.0v5.5M296.53 663.0v5.5M299.86 663.0v5.5M303.19 663.0v5.5M306.52 663.0v5.5M309.86 663.0v5.5M313.19 663.0v5.5M316.52 663.0v5.5M319.85 663.0v5.5M323.18 663.0v5.5M326.52 663.0v5.5M329.85 663.0v5.5M333.18 663.0v5.5M336.51 663.0v5.5M339.84 663.0v5.5M343.18 663.0v5.5M346.51 663.0v5.5M349.84 663.0v5.5M353.17 663.0v5.5M356.51 663.0v5.5M359.84 663.0v5.5M363.17 663.0v5.5M366.50 663.0v5.5M369.83 663.0v5.5M373.17 663.0v5.5M376.50 663.0v5.5M379.83 663.0v5.5M383.16 663.0v5.5M386.49 663.0v5.5M389.83 663.0v5.5M393.16 663.0v5.5M396.49 663.0v5.5M399.82 663.0v5.5M403.15 663.0v5.5M406.49 663.0v5.5M409.82 663.0v5.5M413.15 663.0v5.5M416.48 663.0v5.5M419.82 663.0v5.5M423.15 663.0v5.5M426.48 663.0v5.5M429.81 663.0v5.5M433.14 663.0v5.5M436.48 663.0v5.5M439.81 663.0v5.5M443.14 663.0v5.5M446.47 663.0v5.5M449.80 663.0v5.5M453.14 663.0v5.5M456.47 663.0v5.5M459.80 663.0v5.5M463.13 663.0v5.5M466.46 663.0v5.5M469.80 663.0v5.5M473.13 663.0v5.5M476.46 663.0v5.5M479.79 663.0v5.5M483.13 663.0v5.5M486.46 663.0v5.5M489.79 663.0v5.5M493.12 663.0v5.5M496.45 663.0v5.5M499.79 663.0v5.5M503.12 663.0v5.5M506.45 663.0v5.5M509.78 663.0v5.5M513.11 663.0v5.5M516.45 663.0v5.5M519.78 663.0v5.5M523.11 663.0v5.5M526.44 663.0v5.5M529.78 663.0v5.5M533.11 663.0v5.5M536.44 663.0v5.5M539.77 663.0v5.5M543.10 663.0v5.5M546.44 663.0v5.5M549.77 663.0v5.5M553.10 663.0v5.5M556.43 663.0v5.5M559.76 663.0v5.5M563.10 663.0v5.5M566.43 663.0v5.5M569.76 663.0v5.5M573.09 663.0v5.5M576.42 663.0v5.5M579.76 663.0v5.5M583.09 663.0v5.5M586.42 663.0v5.5M589.75 663.0v5.5M593.09 663.0v5.5M596.42 663.0v5.5M599.75 663.0v5.5M603.08 663.0v5.5M606.41 663.0v5.5M609.75 663.0v5.5M613.08 663.0v5.5M616.41 663.0v5.5M619.74 663.0v5.5M623.07 663.0v5.5M626.41 663.0v5.5M629.74 663.0v5.5M633.07 663.0v5.5M636.40 663.0v5.5M639.74 663.0v5.5M643.07 663.0v5.5M646.40 663.0v5.5M649.73 663.0v5.5M653.06 663.0v5.5M656.40 663.0v5.5M659.73 663.0v5.5M663.06 663.0v5.5M666.39 663.0v5.5M669.72 663.0v5.5M673.06 663.0v5.5M676.39 663.0v5.5M679.72 663.0v5.5M683.05 663.0v5.5M686.38 663.0v5.5M689.72 663.0v5.5M693.05 663.0v5.5M696.38 663.0v5.5M699.71 663.0v5.5M703.05 663.0v5.5M706.38 663.0v5.5M709.71 663.0v5.5M713.04 663.0v5.5M716.37 663.0v5.5M719.71 663.0v5.5M723.04 663.0v5.5M726.37 663.0v5.5M729.70 663.0v5.5M733.03 663.0v5.5M736.37 663.0v5.5M739.70 663.0v5.5M743.03 663.0v5.5M746.36 663.0v5.5M749.69 663.0v5.5M753.03 663.0v5.5M756.36 663.0v5.5M759.69 663.0v5.5M763.02 663.0v5.5M766.36 663.0v5.5M769.69 663.0v5.5M773.02 663.0v5.5M776.35 663.0v5.5M779.68 663.0v5.5M783.02 663.0v5.5M786.35 663.0v5.5M789.68 663.0v5.5M793.01 663.0v5.5M796.34 663.0v5.5M799.68 663.0v5.5M803.01 663.0v5.5M806.34 663.0v5.5M809.67 663.0v5.5M813.01 663.0v5.5M816.34 663.0v5.5M819.67 663.0v5.5M823.00 663.0v5.5M826.33 663.0v5.5M829.67 663.0v5.5M833.00 663.0v5.5M836.33 663.0v5.5M839.66 663.0v5.5M842.99 663.0v5.5M846.33 663.0v5.5M849.66 663.0v5.5M852.99 663.0v5.5M856.32 663.0v5.5M859.65 663.0v5.5M862.99 663.0v5.5M866.32 663.0v5.5M869.65 663.0v5.5M872.98 663.0v5.5M876.32 663.0v5.5M879.65 663.0v5.5M882.98 663.0v5.5M886.31 663.0v5.5M889.64 663.0v5.5M892.98 663.0v5.5M896.31 663.0v5.5M899.64 663.0v5.5M902.97 663.0v5.5M906.30 663.0v5.5M909.64 663.0v5.5M912.97 663.0v5.5M916.30 663.0v5.5M919.63 663.0v5.5M922.96 663.0v5.5M926.30 663.0v5.5M929.63 663.0v5.5M932.96 663.0v5.5M936.29 663.0v5.5M939.63 663.0v5.5M942.96 663.0v5.5M946.29 663.0v5.5M949.62 663.0v5.5M952.95 663.0v5.5M956.29 663.0v5.5M959.62 663.0v5.5M962.95 663.0v5.5M966.28 663.0v5.5M969.61 663.0v5.5M972.95 663.0v5.5M976.28 663.0v5.5M979.61 663.0v5.5M982.94 663.0v5.5M986.28 663.0v5.5M989.61 663.0v5.5M992.94 663.0v5.5M996.27 663.0v5.5M999.60 663.0v5.5M1002.94 663.0v5.5M1006.27 663.0v5.5M1009.60 663.0v5.5" stroke="#a4a4a4" stroke-width="1.6" fill="none"/>
<line x1="96.6" y1="663.5" x2="1009.6" y2="663.5" stroke="#a6a6a6" stroke-width="1"/>
<path d="M97.4 669.4 L104.8 664.8 L115.9 663.0 L127.0 666.7 L136.3 671.3 L149.3 672.2 L160.4 673.1 L173.3 671.3 L186.3 669.4 L193.7 672.2 L204.8 668.5 L210.4 666.7 L219.6 670.4 L227.0 672.2 L238.1 673.1 L249.3 674.1 L256.7 675.0 L264.1 673.1 L267.8 675.0 L275.2 674.1 L282.6 674.1 L292.4 674.1 L299.8 669.4 L309.1 670.4 L316.5 675.0 L322.0 674.1 L327.6 671.3 L336.9 675.0 L348.0 670.4 L359.1 668.5 L364.6 671.3 L372.0 669.4 L383.1 670.4 L392.4 671.3 L403.5 669.4 L414.6 668.5 L425.7 662.0 L433.1 665.7 L442.4 663.9 L451.7 662.0 L462.8 663.0 L470.2 661.1 L477.6 661.1 L487.4 666.7 L491.1 668.5 L498.5 665.7 L509.6 666.7 L517.0 667.6 L524.4 669.4 L528.1 673.1 L535.6 671.3 L543.0 672.2 L550.4 673.1 L557.8 672.2 L565.2 671.3 L576.3 670.4 L583.7 672.2 L591.1 675.0" stroke="#bd0006" stroke-width="4.5" fill="none" stroke-linejoin="round" stroke-linecap="round"/>
<path d="M97.4 663.9 L104.8 665.7 L114.1 660.2 L127.0 661.1 L134.4 662.0 L141.9 664.8 L153.0 665.7 L164.1 665.7 L171.5 662.0 L186.3 661.1 L201.1 662.0 L219.6 663.0 L227.0 668.5 L234.4 669.4 L241.9 669.4 L253.0 670.4 L264.1 668.5 L275.2 667.6 L282.6 668.5 L294.3 666.7 L299.8 673.1 L314.6 675.0 L322.0 665.7 L327.6 666.7 L340.6 667.6 L349.8 670.4 L357.2 674.1 L362.8 675.9 L366.5 682.4 L372.0 679.6 L383.1 678.7 L390.6 677.8 L396.1 679.6 L403.5 677.8 L414.6 679.6 L425.7 675.9 L435.0 674.1 L438.7 677.8 L448.0 677.8 L455.4 679.6 L462.8 680.6 L470.2 679.6 L473.9 680.6 L477.6 675.0 L487.4 674.1 L494.8 677.8 L504.1 673.1 L507.8 677.8 L518.9 681.5 L524.4 680.6 L528.1 676.9 L535.6 677.8 L544.8 677.8 L550.4 675.9 L557.8 674.1 L565.2 675.9 L572.6 673.1 L583.7 673.1 L591.1 674.1 L598.5 672.2 L602.2 671.3 L609.6 670.4 L620.7 669.4 L628.1 670.4 L635.6 668.5 L643.0 669.4 L654.1 669.4 L665.2 666.7 L672.6 664.8 L682.4 662.8 L689.8 668.3 L699.1 669.3 L704.6 673.0 L712.0 674.8 L719.4 673.0 L725.0 667.4 L736.1 665.6 L741.7 666.5 L747.2 670.2 L756.5 668.3 L763.9 669.3 L771.3 668.3 L776.9 667.4 L778.7 675.7 L791.7 681.3 L797.2 674.8 L802.8 678.5 L813.9 677.6 L819.4 667.4 L830.6 668.3 L836.1 668.3 L839.8 671.1 L847.2 671.1 L850.9 673.9 L857.3 671.7 L864.6 671.7 L871.9 673.6 L877.3 669.9 L886.5 669.0 L893.8 671.7 L904.7 674.5 L915.6 671.7 L926.6 669.0 L933.9 666.3 L944.8 667.2 L952.1 669.0 L963.0 669.9 L970.3 668.1 L977.6 664.4 L988.6 666.3 L995.9 669.0 L1003.1 667.2 L1009.5 666.3" stroke="#0b6cf2" stroke-width="3" fill="none" stroke-linejoin="round" stroke-linecap="round"/>
<path d="M100.2 642.6 L106.7 646.3 L114.1 652.8 L119.6 661.1 L127.0 664.8 L134.4 664.8 L141.9 669.4 L154.8 669.4 L169.6 669.4 L175.2 659.3 L180.7 655.6 L190.0 658.3 L193.7 660.2 L197.4 659.3 L208.5 655.6 L215.9 661.1 L223.3 663.9 L228.9 668.5 L238.1 665.7 L245.6 664.8 L253.0 667.6 L260.4 668.5 L265.9 668.5 L275.2 667.6 L296.1 663.9 L303.5 662.0 L310.9 663.0 L320.2 661.1 L325.7 664.8 L335.0 665.7 L340.6 661.1 L348.0 663.9 L355.4 665.7 L359.1 665.7 L360.9 651.9 L366.5 652.8 L373.9 654.6 L385.0 650.9 L392.4 653.7 L396.1 655.6 L399.8 651.9 L410.9 659.3 L418.3 663.9 L429.4 668.5 L440.6 670.4 L444.3 664.8 L451.7 663.0 L459.1 661.1 L466.5 661.1 L477.6 663.0 L487.4 665.7 L491.1 663.9 L500.4 666.7 L509.6 664.8 L517.0 671.3 L524.4 671.3 L526.3 665.7 L535.6 663.9 L543.0 663.0 L550.4 664.8 L557.8 664.8 L565.2 664.8 L572.6 664.8 L581.9 667.6 L591.1 667.6 L598.5 668.5 L602.2 671.3 L609.6 669.4 L620.7 666.7 L628.1 666.7 L635.6 666.7 L639.3 670.4 L643.0 663.9 L650.4 663.0 L657.8 663.9 L665.2 663.9 L672.6 664.8 L674.4 654.6 L680.6 656.3 L688.0 657.2 L691.7 664.6 L704.6 664.6 L708.3 662.8 L713.9 664.6 L723.1 669.3 L730.6 670.2 L741.7 668.3 L745.4 673.9 L752.8 677.6 L762.0 676.7 L765.7 677.6 L775.0 671.1 L784.3 666.5 L787.0 673.9 L795.4 672.0 L799.1 668.3 L802.8 662.8 L812.0 663.7 L817.6 665.6 L825.0 660.9 L832.4 660.9 L838.0 667.4 L847.2 665.6 L859.1 667.2 L868.2 669.9 L875.5 671.7 L886.5 669.9 L891.9 672.6 L897.4 676.3 L906.5 676.3 L912.0 673.6 L919.3 674.5 L926.6 676.3 L930.2 670.8 L937.5 666.3 L944.8 666.3 L950.3 673.6 L959.4 670.8 L966.7 666.3 L975.8 662.6 L984.9 660.8 L988.6 666.3 L995.9 668.1 L1003.1 666.3 L1009.5 665.4" stroke="#eec11a" stroke-width="3" fill="none" stroke-linejoin="round" stroke-linecap="round"/>
<path d="M97.4 665.7 L101.1 668.5 L107.6 671.3 L114.1 662.0 L125.2 651.9 L130.7 641.7 L136.3 638.9 L141.9 643.5 L145.6 639.8 L154.8 638.9 L160.4 642.6 L162.2 638.0 L167.8 641.7 L178.9 648.1 L191.9 655.6 L195.6 668.5 L197.4 672.2 L201.1 665.7 L203.0 674.1 L212.2 671.3 L219.6 675.9 L227.0 674.1 L230.7 678.7 L236.3 665.7 L245.6 660.2 L251.1 664.8 L258.5 671.3 L265.9 670.4 L271.5 668.5 L273.3 659.3 L280.7 657.4 L286.3 650.0 L288.7 661.1 L296.1 663.0 L303.5 655.6 L309.1 655.6 L316.5 664.8 L323.9 670.4 L329.4 675.0 L336.9 675.0 L346.1 669.4 L355.4 666.7 L362.8 672.2 L370.2 657.4 L375.7 652.8 L383.1 637.0 L390.6 628.7 L394.3 626.9 L403.5 625.9 L410.9 628.7 L422.0 631.5 L425.7 639.8 L429.4 636.1 L436.9 646.3 L440.6 653.7 L444.3 647.2 L451.7 653.7 L455.4 653.7 L460.9 644.4 L466.5 653.7 L470.2 657.4 L477.6 668.5 L481.3 670.4 L487.4 672.2 L494.8 674.1 L502.2 669.4 L507.8 660.2 L515.2 651.9 L518.9 638.9 L528.1 640.7 L533.7 649.1 L541.1 648.1 L546.7 652.8 L550.4 660.2 L557.8 654.6 L565.2 650.9 L570.7 659.3 L572.6 663.0 L580.0 655.6 L587.4 646.3 L594.8 649.1 L602.2 652.8 L609.6 657.4 L617.0 665.7 L624.4 669.4 L628.1 675.0 L635.6 681.5 L639.3 677.8 L643.0 681.5 L648.5 675.0 L654.1 675.0 L657.8 679.6 L665.2 681.5 L672.6 679.6 L680.6 664.6 L689.8 665.6 L692.6 650.7 L700.9 657.2 L708.3 653.5 L713.9 646.1 L719.4 646.1 L726.9 649.8 L730.6 648.9 L734.3 652.6 L741.7 652.6 L752.8 653.5 L756.5 651.7 L767.6 653.5 L773.1 657.2 L782.4 653.5 L786.1 658.1 L793.5 659.1 L800.9 662.8 L804.6 651.7 L812.0 648.9 L821.3 640.6 L830.6 639.6 L839.8 639.6 L845.4 635.9 L855.5 631.6 L859.1 637.1 L863.7 646.2 L868.2 649.9 L875.5 655.3 L877.3 662.6 L880.1 659.0 L884.6 664.4 L897.4 666.3 L904.7 664.4 L915.6 665.4 L928.4 665.4 L933.9 662.6 L941.2 663.5 L946.6 658.1 L952.1 663.5 L959.4 664.4 L968.5 657.2 L977.6 651.7 L982.2 644.4 L984.9 646.2 L990.4 638.9 L997.7 641.7 L1000.4 646.2 L1005.0 643.5 L1008.6 648.0" stroke="#b8bbbe" stroke-width="3" fill="none" stroke-linejoin="round" stroke-linecap="round"/>
<path d="M97.4 663.9 L104.8 668.5 L108.5 666.7 L117.8 657.4 L123.3 646.3 L128.9 639.8 L132.6 644.4 L140.0 640.7 L145.6 634.3 L151.1 638.0 L156.7 633.3 L164.1 622.2 L173.3 622.2 L178.9 618.5 L182.6 621.3 L186.3 627.8 L193.7 630.6 L197.4 633.3 L208.5 637.0 L219.6 640.7 L228.9 639.8 L234.4 635.2 L238.1 641.7 L241.9 637.0 L253.0 636.1 L256.7 641.7 L260.4 632.4 L271.5 627.8 L275.2 637.0 L282.6 638.0 L286.3 638.9 L292.4 657.4 L299.8 659.3 L305.4 654.6 L310.9 656.5 L316.5 666.7 L325.7 672.2 L333.1 675.0 L340.6 676.9 L348.0 674.1 L349.8 675.9 L357.2 672.2 L366.5 673.1 L377.6 674.1 L388.7 674.1 L396.1 677.8 L401.7 660.2 L407.2 663.0 L414.6 666.7 L422.0 661.1 L429.4 655.6 L433.1 647.2 L442.4 643.5 L448.0 635.2 L451.7 630.6 L457.2 629.6 L460.9 634.3 L464.6 633.3 L470.2 637.0 L475.7 640.7 L481.3 648.1 L483.7 652.8 L487.4 649.1 L494.8 646.3 L496.7 643.5 L500.4 648.1 L504.1 653.7 L509.6 651.9 L517.0 650.0 L522.6 650.0 L528.1 644.4 L531.9 638.0 L535.6 646.3 L541.1 651.9 L546.7 648.1 L554.1 637.0 L559.6 634.3 L568.9 642.6 L576.3 631.5 L587.4 636.1 L591.1 644.4 L594.8 653.7 L600.4 652.8 L605.9 651.9 L609.6 655.6 L613.3 661.1 L620.7 663.9 L628.1 664.8 L635.6 661.1 L641.1 655.6 L646.7 661.1 L654.1 659.3 L659.6 657.4 L663.3 661.1 L667.0 642.6 L672.6 638.9 L676.3 631.5 L678.7 631.3 L685.2 617.4 L692.6 618.3 L695.4 635.0 L700.9 631.3 L702.8 620.2 L715.7 614.6 L718.5 623.0 L721.3 609.1 L728.7 610.0 L731.5 619.3 L734.3 618.3 L737.0 625.7 L739.8 614.6 L747.2 607.2 L750.9 590.6 L754.6 590.6 L757.4 580.4 L770.4 592.4 L773.1 603.5 L775.9 591.5 L783.3 588.7 L788.0 605.4 L791.7 609.1 L794.4 617.4 L800.9 624.8 L804.6 639.6 L807.4 642.4 L809.3 639.6 L812.0 650.7 L821.3 657.2 L823.1 668.3 L829.6 598.9 L838.0 603.5 L839.8 610.9 L845.4 566.5 L848.1 557.2 L855.5 545.0 L860.9 576.9 L863.7 579.7 L866.4 577.8 L875.5 593.3 L879.2 592.4 L882.8 615.2 L884.6 618.0 L891.9 609.7 L894.7 613.4 L899.2 633.5 L902.0 636.2 L912.0 660.8 L913.8 661.7 L917.5 642.6 L921.1 641.7 L928.4 648.0 L933.9 659.0 L939.3 657.2 L946.6 663.5 L952.1 668.1 L959.4 666.3 L966.7 669.0 L975.8 676.3 L983.1 676.3 L988.6 675.4 L992.2 679.9 L1001.3 670.8 L1005.0 662.6 L1009.5 661.7" stroke="#bccdf3" stroke-width="3" fill="none" stroke-linejoin="round" stroke-linecap="round"/>
<path d="M97.4 653.7 L108.5 652.8 L117.8 650.0 L127.0 650.0 L143.7 651.9 L149.3 649.1 L164.1 645.4 L178.9 640.7 L190.0 639.8 L197.4 640.7 L203.0 647.2 L215.9 648.1 L223.3 647.2 L230.7 649.1 L238.1 649.1 L245.6 646.3 L253.0 650.0 L260.4 654.6 L271.5 650.0 L277.0 654.6 L282.6 659.3 L296.1 658.3 L307.2 658.3 L318.3 659.3 L327.6 657.4 L331.3 644.4 L340.6 647.2 L349.8 651.9 L359.1 654.6 L370.2 653.7 L377.6 651.9 L388.7 652.8 L399.8 649.1 L410.9 653.7 L418.3 653.7 L429.4 651.9 L436.9 655.6 L448.0 656.5 L459.1 657.4 L470.2 655.6 L491.1 659.3 L498.5 657.4 L507.8 655.6 L520.7 653.7 L528.1 655.6 L539.3 654.6 L550.4 652.8 L557.8 650.9 L567.0 651.9 L576.3 655.6 L583.7 654.6 L591.1 656.5 L598.5 657.4 L609.6 661.1 L620.7 663.0 L628.1 663.0 L637.4 663.0 L643.0 663.9 L654.1 668.5 L661.5 666.7 L665.2 662.0 L672.6 661.1 L686.1 657.2 L697.2 653.5 L706.5 651.7 L712.0 653.5 L721.3 660.0 L730.6 660.0 L739.8 656.3 L749.1 658.1 L754.6 654.4 L762.0 656.3 L769.4 655.4 L776.9 649.8 L786.1 648.9 L791.7 653.5 L795.4 660.9 L804.6 660.9 L812.0 656.3 L821.3 657.2 L830.6 658.1 L838.0 658.1 L847.2 656.3 L852.8 657.2 L859.1 659.0 L864.6 662.6 L866.4 660.8 L875.5 668.1 L884.6 659.9 L893.8 662.6 L901.0 660.8 L904.7 656.2 L908.3 662.6 L915.6 661.7 L930.2 665.4 L935.7 669.9 L939.3 664.4 L948.5 667.2 L955.7 669.9 L963.0 662.6 L970.3 660.8 L977.6 666.3 L984.9 673.6 L990.4 662.6 L1001.3 668.1 L1008.6 664.4" stroke="#e8d2d2" stroke-width="3" fill="none" stroke-linejoin="round" stroke-linecap="round"/>
<text x="91.8" y="724.5" transform="rotate(60 91.8 724.5)" class="xl" textLength="43.5" lengthAdjust="spacingAndGlyphs">01–02</text>
<text x="115.1" y="724.5" transform="rotate(60 115.1 724.5)" class="xl" textLength="43.5" lengthAdjust="spacingAndGlyphs">01–11</text>
<text x="138.4" y="724.5" transform="rotate(60 138.4 724.5)" class="xl" textLength="43.5" lengthAdjust="spacingAndGlyphs">01–20</text>
<text x="161.7" y="724.5" transform="rotate(60 161.7 724.5)" class="xl" textLength="43.5" lengthAdjust="spacingAndGlyphs">01–29</text>
<text x="185.1" y="724.5" transform="rotate(60 185.1 724.5)" class="xl" textLength="43.5" lengthAdjust="spacingAndGlyphs">02–07</text>
<text x="208.4" y="724.5" transform="rotate(60 208.4 724.5)" class="xl" textLength="43.5" lengthAdjust="spacingAndGlyphs">02–16</text>
<text x="231.7" y="724.5" transform="rotate(60 231.7 724.5)" class="xl" textLength="43.5" lengthAdjust="spacingAndGlyphs">02–25</text>
<text x="255.0" y="724.5" transform="rotate(60 255.0 724.5)" class="xl" textLength="43.5" lengthAdjust="spacingAndGlyphs">03–05</text>
<text x="278.4" y="724.5" transform="rotate(60 278.4 724.5)" class="xl" textLength="43.5" lengthAdjust="spacingAndGlyphs">03–14</text>
<text x="301.7" y="724.5" transform="rotate(60 301.7 724.5)" class="xl" textLength="43.5" lengthAdjust="spacingAndGlyphs">03–23</text>
<text x="325.0" y="724.5" transform="rotate(60 325.0 724.5)" class="xl" textLength="43.5" lengthAdjust="spacingAndGlyphs">04–01</text>
<text x="348.3" y="724.5" transform="rotate(60 348.3 724.5)" class="xl" textLength="43.5" lengthAdjust="spacingAndGlyphs">04–11</text>
<text x="371.7" y="724.5" transform="rotate(60 371.7 724.5)" class="xl" textLength="43.5" lengthAdjust="spacingAndGlyphs">04–20</text>
<text x="395.0" y="724.5" transform="rotate(60 395.0 724.5)" class="xl" textLength="43.5" lengthAdjust="spacingAndGlyphs">04–29</text>
<text x="418.3" y="724.5" transform="rotate(60 418.3 724.5)" class="xl" textLength="43.5" lengthAdjust="spacingAndGlyphs">05–11</text>
<text x="441.6" y="724.5" transform="rotate(60 441.6 724.5)" class="xl" textLength="43.5" lengthAdjust="spacingAndGlyphs">05–20</text>
<text x="465.0" y="724.5" transform="rotate(60 465.0 724.5)" class="xl" textLength="43.5" lengthAdjust="spacingAndGlyphs">05–29</text>
<text x="488.3" y="724.5" transform="rotate(60 488.3 724.5)" class="xl" textLength="43.5" lengthAdjust="spacingAndGlyphs">06–07</text>
<text x="511.6" y="724.5" transform="rotate(60 511.6 724.5)" class="xl" textLength="43.5" lengthAdjust="spacingAndGlyphs">06–16</text>
<text x="534.9" y="724.5" transform="rotate(60 534.9 724.5)" class="xl" textLength="43.5" lengthAdjust="spacingAndGlyphs">06–25</text>
<text x="558.3" y="724.5" transform="rotate(60 558.3 724.5)" class="xl" textLength="43.5" lengthAdjust="spacingAndGlyphs">07–04</text>
<text x="581.6" y="724.5" transform="rotate(60 581.6 724.5)" class="xl" textLength="43.5" lengthAdjust="spacingAndGlyphs">07–13</text>
<text x="604.9" y="724.5" transform="rotate(60 604.9 724.5)" class="xl" textLength="43.5" lengthAdjust="spacingAndGlyphs">07–22</text>
<text x="628.2" y="724.5" transform="rotate(60 628.2 724.5)" class="xl" textLength="43.5" lengthAdjust="spacingAndGlyphs">07–31</text>
<text x="651.6" y="724.5" transform="rotate(60 651.6 724.5)" class="xl" textLength="43.5" lengthAdjust="spacingAndGlyphs">08–09</text>
<text x="674.9" y="724.5" transform="rotate(60 674.9 724.5)" class="xl" textLength="43.5" lengthAdjust="spacingAndGlyphs">08–18</text>
<text x="698.2" y="724.5" transform="rotate(60 698.2 724.5)" class="xl" textLength="43.5" lengthAdjust="spacingAndGlyphs">08–27</text>
<text x="721.5" y="724.5" transform="rotate(60 721.5 724.5)" class="xl" textLength="43.5" lengthAdjust="spacingAndGlyphs">09–05</text>
<text x="744.9" y="724.5" transform="rotate(60 744.9 724.5)" class="xl" textLength="43.5" lengthAdjust="spacingAndGlyphs">09–14</text>
<text x="768.2" y="724.5" transform="rotate(60 768.2 724.5)" class="xl" textLength="43.5" lengthAdjust="spacingAndGlyphs">09–23</text>
<text x="791.5" y="724.5" transform="rotate(60 791.5 724.5)" class="xl" textLength="43.5" lengthAdjust="spacingAndGlyphs">10–09</text>
<text x="814.8" y="724.5" transform="rotate(60 814.8 724.5)" class="xl" textLength="43.5" lengthAdjust="spacingAndGlyphs">10–18</text>
<text x="838.2" y="724.5" transform="rotate(60 838.2 724.5)" class="xl" textLength="43.5" lengthAdjust="spacingAndGlyphs">10–27</text>
<text x="861.5" y="724.5" transform="rotate(60 861.5 724.5)" class="xl" textLength="43.5" lengthAdjust="spacingAndGlyphs">11–05</text>
<text x="884.8" y="724.5" transform="rotate(60 884.8 724.5)" class="xl" textLength="43.5" lengthAdjust="spacingAndGlyphs">11–14</text>
<text x="908.1" y="724.5" transform="rotate(60 908.1 724.5)" class="xl" textLength="43.5" lengthAdjust="spacingAndGlyphs">11–23</text>
<text x="931.5" y="724.5" transform="rotate(60 931.5 724.5)" class="xl" textLength="43.5" lengthAdjust="spacingAndGlyphs">12–02</text>
<text x="954.8" y="724.5" transform="rotate(60 954.8 724.5)" class="xl" textLength="43.5" lengthAdjust="spacingAndGlyphs">12–11</text>
<text x="978.1" y="724.5" transform="rotate(60 978.1 724.5)" class="xl" textLength="43.5" lengthAdjust="spacingAndGlyphs">12–20</text>
<text x="1001.4" y="724.5" transform="rotate(60 1001.4 724.5)" class="xl" textLength="43.5" lengthAdjust="spacingAndGlyphs">12–29</text>
<text x="494" y="528.8" class="ct">焦炭基差</text>
<text x="26" y="525" class="un" textLength="46" lengthAdjust="spacingAndGlyphs">元/吨</text>
<line x1="109.5" y1="811.5" x2="147.5" y2="811.5" stroke="#bd0006" stroke-width="4.5" stroke-linecap="round"/>
<text x="150.5" y="817.7" class="lg" textLength="70.5" lengthAdjust="spacingAndGlyphs">2025年度</text>
<line x1="259.6" y1="811.5" x2="297.6" y2="811.5" stroke="#0b6cf2" stroke-width="3" stroke-linecap="round"/>
<text x="300.6" y="817.7" class="lg" textLength="70.5" lengthAdjust="spacingAndGlyphs">2024年度</text>
<line x1="409.7" y1="811.5" x2="447.7" y2="811.5" stroke="#eec11a" stroke-width="3" stroke-linecap="round"/>
<text x="450.7" y="817.7" class="lg" textLength="70.5" lengthAdjust="spacingAndGlyphs">2023年度</text>
<line x1="559.8" y1="811.5" x2="597.8" y2="811.5" stroke="#b8bbbe" stroke-width="3" stroke-linecap="round"/>
<text x="600.8" y="817.7" class="lg" textLength="70.5" lengthAdjust="spacingAndGlyphs">2022年度</text>
<line x1="709.9" y1="811.5" x2="747.9" y2="811.5" stroke="#bccdf3" stroke-width="3" stroke-linecap="round"/>
<text x="750.9" y="817.7" class="lg" textLength="70.5" lengthAdjust="spacingAndGlyphs">2021年度</text>
<line x1="860.0" y1="811.5" x2="898.0" y2="811.5" stroke="#e8d2d2" stroke-width="3" stroke-linecap="round"/>
<text x="901.0" y="817.7" class="lg" textLength="70.5" lengthAdjust="spacingAndGlyphs">2020年度</text>
</svg>
</body></html>
